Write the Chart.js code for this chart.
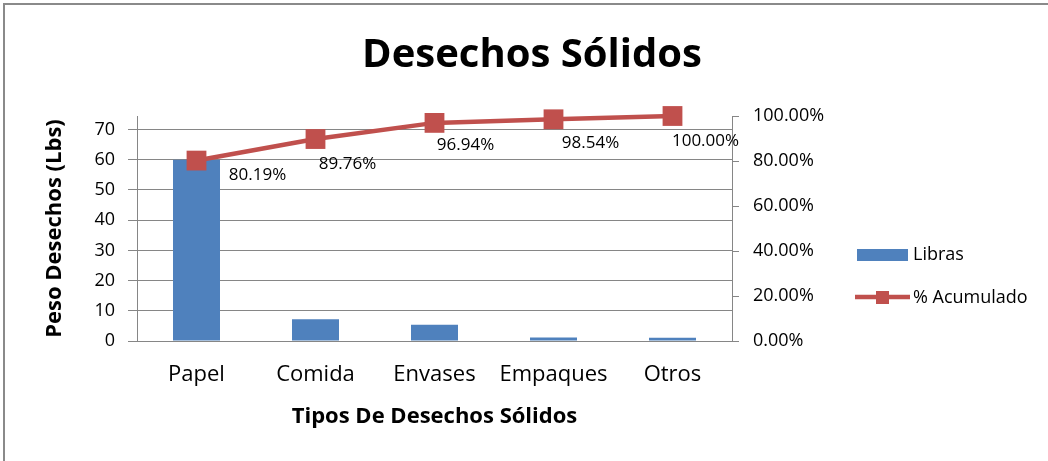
<!DOCTYPE html>
<html>
<head>
<meta charset="utf-8">
<script src="https://cdn.jsdelivr.net/npm/chart.js@4.4.1/dist/chart.umd.min.js"></script>
<style>
  html, body { margin: 0; padding: 0; background: #fff; overflow: hidden; }
  #wrap { width: 1048px; height: 461px; }
</style>
</head>
<body>
<div id="wrap"><canvas id="paretoChart"></canvas></div>
<script>
const categorias = ['Papel', 'Comida', 'Envases', 'Empaques', 'Otros'];
const libras = [60, 7.2, 5.4, 1.2, 1.1];
const acumulado = [80.19, 89.76, 96.94, 98.54, 100.00];
const ticksLibras = [0, 10, 20, 30, 40, 50, 60, 70];
const ticksPct = [0, 20, 40, 60, 80, 100];

const gris = '#868686';
const font = 'Open Sans';

// fondo blanco + marco del grafico
const marco = {
    id: 'marco',
    beforeDraw(chart) {
        const c = chart.ctx;
        c.save();
        c.fillStyle = '#fff';
        c.fillRect(0, 0, chart.width, chart.height);
        c.strokeStyle = '#8a8a8a';
        c.lineWidth = 2;
        c.strokeRect(4, 4, chart.width + 20, chart.height + 20);
        c.restore();
    }
};

// etiquetas de porcentaje junto a cada punto
const etiquetas = {
    id: 'etiquetas',
    afterDatasetsDraw(chart, args, opts) {
        const meta = chart.getDatasetMeta(1);
        const c = chart.ctx;
        c.save();
        c.font = '17px "' + font + '"';
        c.fillStyle = '#000';
        c.textAlign = 'center';
        c.textBaseline = 'middle';
        meta.data.forEach((pt, i) => {
            const txt = acumulado[i].toFixed(2) + '%';
            c.fillText(txt, pt.x + opts.dx[i], pt.y + opts.dy[i]);
        });
        c.restore();
    }
};

// leyenda a la derecha
const leyenda = {
    id: 'leyenda',
    afterDraw(chart) {
        const c = chart.ctx;
        const ds = chart.data.datasets;
        c.save();
        c.font = '18px "' + font + '"';
        c.textBaseline = 'middle';
        c.textAlign = 'left';
        c.fillStyle = ds[0].backgroundColor;
        c.fillRect(857, 249, 51, 12);
        c.fillStyle = '#000';
        c.fillText(ds[0].label, 913, 255);
        c.strokeStyle = ds[1].borderColor;
        c.lineWidth = 4.5;
        c.beginPath();
        c.moveTo(855, 297);
        c.lineTo(910, 297);
        c.stroke();
        c.fillStyle = ds[1].pointBackgroundColor;
        c.fillRect(876, 291, 13, 13);
        c.fillStyle = '#000';
        c.fillText(ds[1].label, 913, 298);
        c.restore();
    }
};

const ctx = document.getElementById('paretoChart').getContext('2d');
new Chart(ctx, {
    data: {
        labels: categorias,
        datasets: [{
            type: 'bar',
            label: 'Libras',
            data: libras,
            backgroundColor: '#4f81bd',
            barPercentage: 0.395,
            categoryPercentage: 1,
            yAxisID: 'y',
            order: 2
        }, {
            type: 'line',
            label: '% Acumulado',
            data: acumulado,
            borderColor: '#c0504d',
            backgroundColor: '#c0504d',
            pointBackgroundColor: '#c0504d',
            pointBorderColor: '#c0504d',
            borderWidth: 4.5,
            pointStyle: 'rect',
            pointRadius: 14,
            pointBorderWidth: 0,
            tension: 0,
            clip: false,
            yAxisID: 'y1',
            order: 1
        }]
    },
    options: {
        responsive: true,
        maintainAspectRatio: false,
        animation: false,
        layout: { padding: { left: 16, right: 0, top: 0, bottom: 0 } },
        plugins: {
            legend: { display: false },
            tooltip: { enabled: false },
            title: {
                display: true,
                text: 'Desechos Sólidos',
                color: '#000',
                font: { family: font, size: 40, weight: 'bold' },
                padding: { top: 32, bottom: 36 }
            },
            etiquetas: {
                dx: [61, 32, 31, 37, 33],
                dy: [15, 25, 22, 24, 25]
            }
        },
        scales: {
            x: {
                grid: { display: false, drawTicks: false },
                border: { display: true, color: gris },
                ticks: { color: '#000', font: { family: font, size: 22 }, padding: 21, maxRotation: 0 },
                title: {
                    display: true,
                    text: 'Tipos De Desechos Sólidos',
                    color: '#000',
                    font: { family: font, size: 22, weight: 'bold' },
                    padding: { top: 0, bottom: 31 }
                },
                afterFit(s) { s.height = 120; }
            },
            y: {
                position: 'left',
                min: 0,
                max: 74.5,
                grid: { color: gris, tickLength: 9 },
                border: { display: true, color: gris },
                ticks: {
                    stepSize: 10,
                    includeBounds: false,
                    color: '#000',
                    font: { family: font, size: 18 },
                    padding: 13
                },
                afterBuildTicks(s) { s.ticks = ticksLibras.map(v => ({ value: v })); },
                title: {
                    display: true,
                    text: 'Peso Desechos (Lbs)',
                    color: '#000',
                    font: { family: font, size: 22, weight: 'bold' },
                    padding: { top: 26, bottom: 0 }
                },
                afterFit(s) { s.width = 121; }
            },
            y1: {
                position: 'right',
                min: 0,
                max: 100,
                grid: { drawOnChartArea: false, color: gris, tickLength: 7 },
                border: { display: true, color: gris },
                ticks: {
                    color: '#000',
                    font: { family: font, size: 18 },
                    padding: 14,
                    callback: v => v.toFixed(2) + '%'
                },
                afterBuildTicks(s) { s.ticks = ticksPct.map(v => ({ value: v })); },
                afterFit(s) { s.width = 316; }
            }
        }
    },
    plugins: [marco, etiquetas, leyenda]
});
</script>
</body>
</html>
